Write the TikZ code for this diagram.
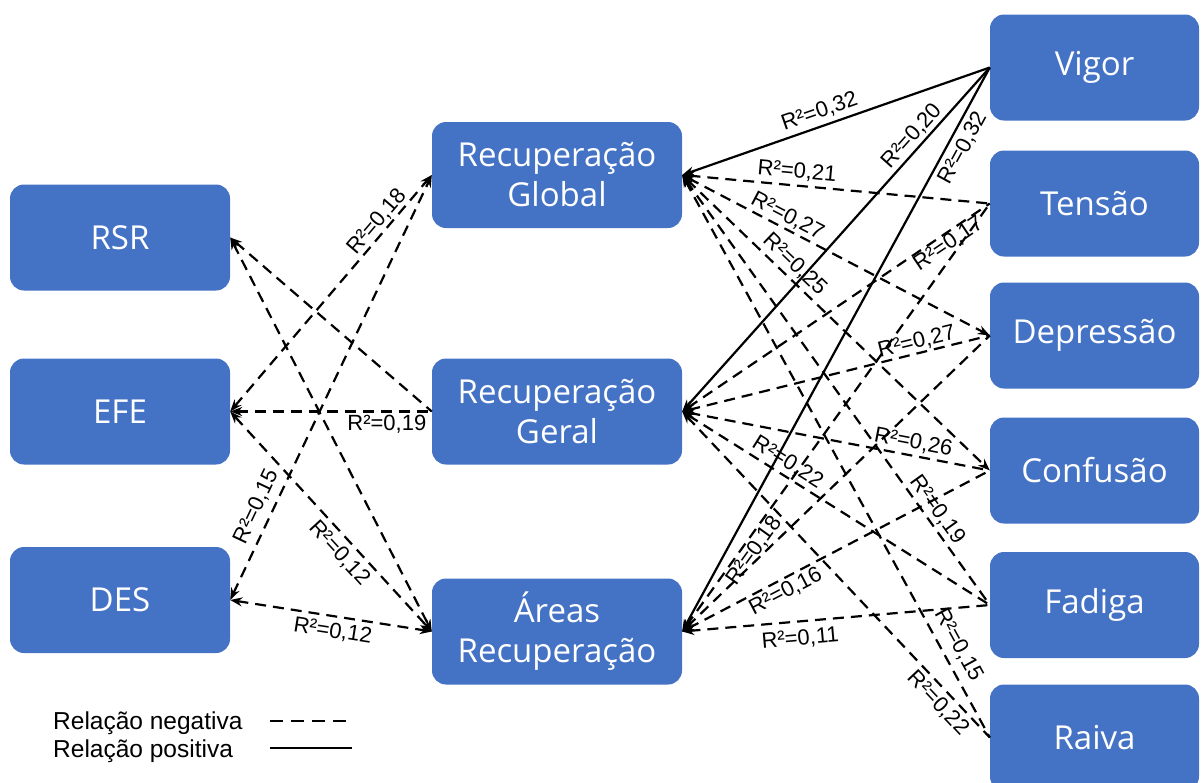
\documentclass[tikz,border=0pt]{standalone}
\usepackage{fontspec}
\newfontfamily\boxfont{Open Sans}
\newfontfamily\labfont{Liberation Sans}
\usetikzlibrary{arrows.meta}
\definecolor{boxblue}{RGB}{68,114,196}
\begin{document}
\begin{tikzpicture}[x=1pt,y=-1pt,
  box/.style={draw=none, fill=boxblue, rounded corners=14pt, text=white,
    font=\boxfont\fontsize{33}{40}\selectfont, align=center, inner sep=0pt,
    minimum height=106pt},
  lbox/.style={box, minimum width=220pt},
  mbox/.style={box, minimum width=250pt},
  rbox/.style={box, minimum width=209pt},
  negline/.style={line width=2.2pt, dash pattern=on 11pt off 7pt},
  posline/.style={line width=2.2pt},
  tipS/.style={{Stealth[length=12pt,width=9pt]}-},
  tipB/.style={{Stealth[length=12pt,width=9pt]}-{Stealth[length=12pt,width=9pt]}},
  lab/.style={font=\labfont\fontsize{22}{24}\selectfont, inner sep=0pt, sloped},
  legtext/.style={font=\labfont\fontsize{24.5}{28}\selectfont, inner sep=0pt, anchor=base west}
]
\useasboundingbox (0,0) rectangle (1201,782);

% nodes
\node[lbox] (rsr) at (120,237.5) {RSR};
\node[lbox] (efe) at (120,411.5) {EFE};
\node[lbox] (des) at (120,600) {DES};
\node[mbox] (glob) at (557,175) {Recuperação\\Global};
\node[mbox] (geral) at (557,411.5) {Recuperação\\Geral};
\node[mbox] (areas) at (557,631.5) {Áreas\\Recuperação};
\node[rbox] (vigor) at (1094.5,67.5) {Vigor};
\node[rbox] (tensao) at (1094.5,203.5) {Tensão};
\node[rbox] (depr) at (1094.5,335.5) {Depressão};
\node[rbox] (conf) at (1094.5,470.5) {Confusão};
\node[rbox] (fadiga) at (1094.5,605) {Fadiga};
\node[rbox] (raiva) at (1094.5,737.5) {Raiva};

% left connectors
\draw[negline,tipS] (rsr.east) -- (geral.west);
\draw[negline,tipB] (rsr.east) -- (areas.west);
\draw[negline,tipB] (efe.east) -- node[lab,pos=0.772,above=1pt]{R²=0,18} (glob.west);
\draw[negline,tipS] (efe.east) -- node[lab,pos=0.777,below=3pt]{R²=0,19} (geral.west);
\draw[negline,tipB] (efe.east) -- node[lab,pos=0.597,below=5pt]{R²=0,12} (areas.west);
\draw[negline,tipB] (des.east) -- node[lab,pos=0.203,above=6pt]{R²=0,15} (glob.west);
\draw[negline,tipB] (des.east) -- node[lab,pos=0.52,below=5pt]{R²=0,12} (areas.west);

% right connectors
\draw[posline,tipS] (glob.east) -- node[lab,pos=0.462,above=4pt]{R²=0,32} (vigor.west);
\draw[posline,tipS] (geral.east) -- node[lab,pos=0.777,above=2pt]{R²=0,20} (vigor.west);
\draw[posline,tipS] (areas.east) -- node[lab,pos=0.870,below=5pt]{R²=0,32} (vigor.west);

\draw[negline,tipS] (glob.east) -- node[lab,pos=0.369,above=4pt]{R²=0,21} (tensao.west);
\draw[negline,tipB] (glob.east) -- node[lab,pos=0.324,above=2pt]{R²=0,27} (depr.west);
\draw[negline,tipB] (glob.east) -- node[lab,pos=0.335,above=3.5pt]{R²=0,25} (conf.west);
\draw[negline,tipS] (glob.east) -- node[lab,pos=0.796,above=3pt]{R²=0,19} (fadiga.west);
\draw[negline,tipS] (glob.east) -- node[lab,pos=0.85,above=7pt]{R²=0,15} (raiva.west);

\draw[negline,tipS] (geral.east) -- node[lab,pos=0.847,below=0pt]{R²=0,17} (tensao.west);
\draw[negline,tipS] (geral.east) -- node[lab,pos=0.771,above=1pt]{R²=0,27} (depr.west);
\draw[negline,tipS] (geral.east) -- node[lab,pos=0.743,above=3pt]{R²=0,26} (conf.west);
\draw[negline,tipS] (geral.east) -- node[lab,pos=0.32,above=3pt]{R²=0,22} (fadiga.west);
\draw[negline,tipS] (geral.east) -- node[lab,pos=0.865,below=4pt]{R²=0,22} (raiva.west);

\draw[negline,tipS] (areas.east) -- node[lab,pos=0.204,below=1pt]{R²=0,18} (tensao.west);
\draw[negline,tipS] (areas.east) -- (depr.west);
\draw[negline,tipS] (areas.east) -- node[lab,pos=0.317,below=2.5pt]{R²=0,16} (conf.west);
\draw[negline,tipS] (areas.east) -- node[lab,pos=0.379,below=7pt]{R²=0,11} (fadiga.west);

% legend
\node[legtext] (legneg) at (53,729) {Relação negativa};
\node[legtext] (legpos) at (53,757) {Relação positiva};
\coordinate (n1) at (270,721);
\coordinate (n2) at (348,721);
\coordinate (p1) at (270,748);
\coordinate (p2) at (352,748);
\draw[line width=2.2pt, dash pattern=on 13pt off 8pt] (n1) -- (n2);
\draw[posline] (p1) -- (p2);
\end{tikzpicture}
\end{document}
